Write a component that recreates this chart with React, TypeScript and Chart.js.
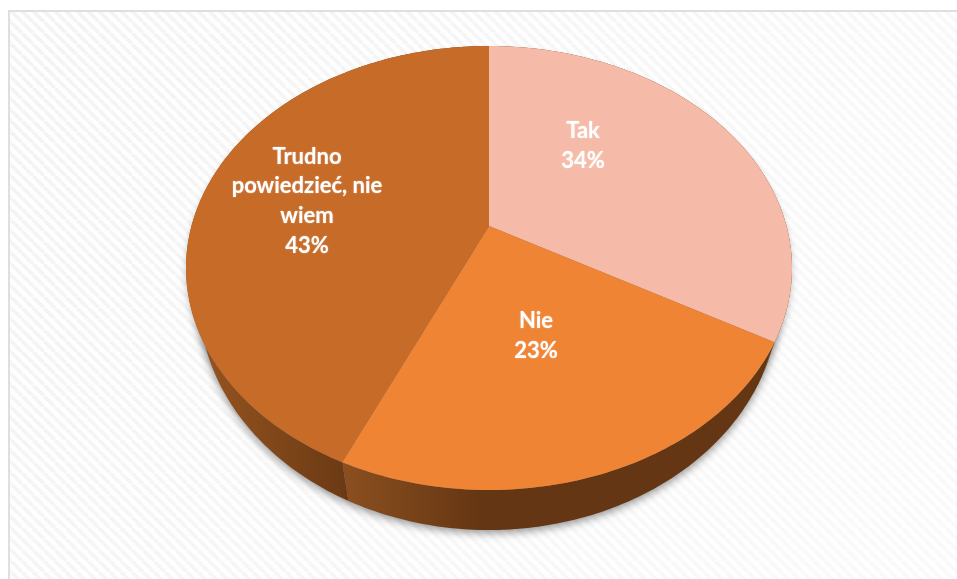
import React, { useEffect, useRef } from "react";
import { Chart, registerables } from "chart.js";

Chart.register(...registerables);

const categories: (string | string[])[] = ["Tak", "Nie", ["Trudno", "powiedzieć, nie", "wiem"]];
const shares = [34, 23, 43];
const topColors = ["#F6BBA8", "#F08435", "#C76B29"];
const wallStops = [
  ["#6A3913", "#653513"],
  ["#8B4F1F", "#653613"],
  ["#95531F", "#6B3A14"],
];
const wallSpans = [
  [480, 800],
  [345, 480],
  [205, 345],
];

const WIDTH = 957;
const HEIGHT = 579;
const TILT = -0.189;
const SKEW_A = (1.7 * Math.PI) / 180;
const SKEW_B = (0.957 * Math.PI) / 180;
const topDisc = { cx: 489, cy: 268, rx: 303, ry: 222 };
const baseDisc = { cx: 489, cy: 298, rx: 290, ry: 232 };
const labelCentres = [
  { x: 583, y: 146 },
  { x: 536, y: 336 },
  { x: 307, y: 201 },
];
const LINE_HEIGHT = 29.7;

type Disc = typeof topDisc;

function project(d: Disc, angle: number) {
  const phi = angle + Math.PI / 2;
  const warped = angle - SKEW_A * Math.sin(phi) - SKEW_B * (1 - Math.cos(phi));
  const ux = Math.cos(warped);
  const uy = Math.sin(warped);
  const k = Math.sqrt(1 - TILT * TILT);
  const w = 1 + TILT * uy;
  return {
    x: d.cx + (d.rx * k * ux) / w,
    y: d.cy + TILT * d.ry + (d.ry * k * k * uy) / w,
  };
}

function traceRim(ctx: CanvasRenderingContext2D, d: Disc, a0: number, a1: number, move: boolean) {
  const steps = Math.max(8, Math.ceil(Math.abs(a1 - a0) * 60));
  for (let i = 0; i <= steps; i++) {
    const p = project(d, a0 + ((a1 - a0) * i) / steps);
    if (i === 0 && move) ctx.moveTo(p.x, p.y);
    else ctx.lineTo(p.x, p.y);
  }
}

function castShadow(ctx: CanvasRenderingContext2D, d: Disc, alpha: number, blur: number, drop: number) {
  ctx.save();
  ctx.shadowColor = `rgba(0,0,0,${alpha})`;
  ctx.shadowBlur = blur;
  ctx.shadowOffsetX = 3000;
  ctx.shadowOffsetY = drop;
  ctx.fillStyle = "#000";
  ctx.translate(-3000, 0);
  ctx.beginPath();
  traceRim(ctx, d, 0, Math.PI * 2, true);
  ctx.closePath();
  ctx.fill();
  ctx.restore();
}

const backdrop = {
  id: "backdrop",
  beforeDraw(chart: Chart) {
    const ctx = chart.ctx;
    ctx.save();
    ctx.fillStyle = "#ffffff";
    ctx.fillRect(0, 0, WIDTH, HEIGHT);
    const tile = document.createElement("canvas");
    tile.width = 11;
    tile.height = 11;
    const t = tile.getContext("2d")!;
    t.fillStyle = "#fefefe";
    t.fillRect(0, 0, 11, 11);
    t.strokeStyle = "#f3f3f3";
    t.lineWidth = 3.6;
    for (let o = -11; o <= 11; o += 11) {
      t.beginPath();
      t.moveTo(o, 0);
      t.lineTo(o + 11, 11);
      t.stroke();
    }
    ctx.fillStyle = ctx.createPattern(tile, "repeat")!;
    ctx.fillRect(10, 12, WIDTH - 10, HEIGHT - 12);
    const fade = ctx.createLinearGradient(0, 0, WIDTH, HEIGHT);
    fade.addColorStop(0, "rgba(255,255,255,0)");
    fade.addColorStop(1, "rgba(255,255,255,0.55)");
    ctx.fillStyle = fade;
    ctx.fillRect(10, 12, WIDTH - 10, HEIGHT - 12);
    ctx.fillStyle = "#dfdfdf";
    ctx.fillRect(8, 10, WIDTH - 8, 2);
    ctx.fillRect(8, 10, 2, HEIGHT - 10);
    ctx.restore();
  },
};

const tiltedPie = {
  id: "tiltedPie",
  beforeDatasetDraw(chart: Chart) {
    const ctx = chart.ctx;
    const arcs = chart.getDatasetMeta(0).data as any[];
    ctx.save();

    castShadow(ctx, topDisc, 0.22, 7, 5);
    castShadow(ctx, baseDisc, 0.42, 9, 3);

    // walls
    arcs.forEach((arc, i) => {
      const g = ctx.createLinearGradient(wallSpans[i][0], 0, wallSpans[i][1], 0);
      g.addColorStop(0, wallStops[i][0]);
      g.addColorStop(1, wallStops[i][1]);
      ctx.fillStyle = g;
      ctx.beginPath();
      traceRim(ctx, topDisc, arc.startAngle, arc.endAngle, true);
      traceRim(ctx, baseDisc, arc.endAngle, arc.startAngle, false);
      ctx.closePath();
      ctx.fill();
    });

    // top face
    const apex = { x: topDisc.cx, y: topDisc.cy + TILT * topDisc.ry };
    arcs.forEach((arc, i) => {
      ctx.fillStyle = topColors[i];
      ctx.beginPath();
      ctx.moveTo(apex.x, apex.y);
      traceRim(ctx, topDisc, arc.startAngle, arc.endAngle, false);
      ctx.closePath();
      ctx.fill();
    });
    ctx.restore();
    return false;
  },
  afterDatasetsDraw(chart: Chart) {
    const ctx = chart.ctx;
    const values = chart.data.datasets[0].data as number[];
    const total = values.reduce((s, v) => s + v, 0);
    ctx.save();
    ctx.fillStyle = "#ffffff";
    ctx.font = 'bold 22px Lato, "Open Sans", sans-serif';
    ctx.textAlign = "center";
    ctx.textBaseline = "middle";
    ctx.shadowColor = "rgba(255,255,255,0.55)";
    ctx.shadowBlur = 1.5;
    (chart.data.labels as (string | string[])[]).forEach((label, i) => {
      const lines = ([] as string[]).concat(label);
      lines.push(`${Math.round((values[i] / total) * 100)}%`);
      const c = labelCentres[i];
      lines.forEach((line, j) => {
        ctx.fillText(line, c.x, c.y + (j - (lines.length - 1) / 2) * LINE_HEIGHT);
      });
    });
    ctx.restore();
  },
};

export default function App() {
  const ref = useRef<HTMLCanvasElement>(null);
  useEffect(() => {
    const chart = new Chart(ref.current!, {
      type: "pie",
      data: {
        labels: categories as any,
        datasets: [{ data: shares, backgroundColor: topColors, borderWidth: 0 }],
      },
      options: {
        animation: false,
        responsive: false,
        plugins: { legend: { display: false }, tooltip: { enabled: false } },
      },
      plugins: [backdrop, tiltedPie as any],
    });
    return () => chart.destroy();
  }, []);
  return (
    <canvas
      ref={ref}
      width={WIDTH}
      height={HEIGHT}
      style={{ position: "absolute", left: 0, top: 0, width: WIDTH, height: HEIGHT, display: "block" }}
    />
  );
}
